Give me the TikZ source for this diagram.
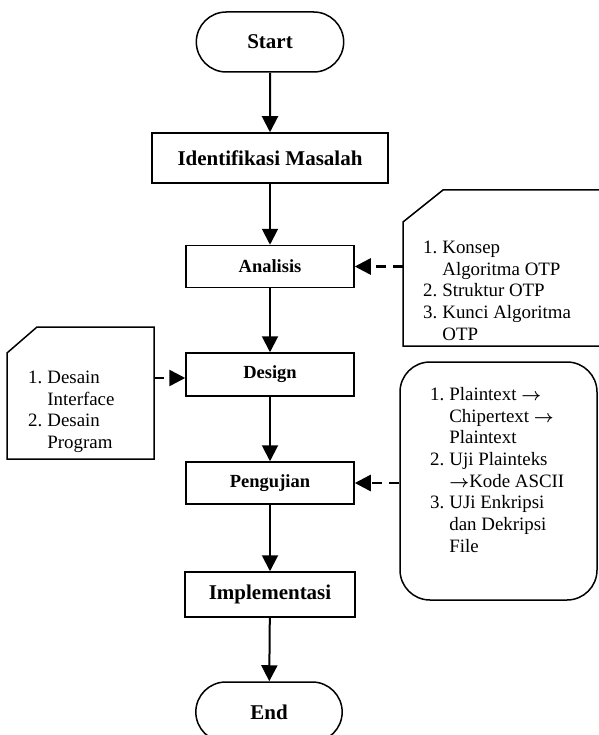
\documentclass[tikz,border=0pt]{standalone}
\usepackage{fontspec}
\setmainfont{Liberation Serif}
\usetikzlibrary{shapes.misc,arrows.meta}

\newcommand{\thickto}{{\boldmath$\rightarrow$}}

\begin{document}
\begin{tikzpicture}[
    x=1pt, y=-1pt,
    >={Triangle[width=16pt,length=16pt]},
    % --- node styles ---
    terminal/.style = {rounded rectangle, draw, line width=1.5pt,
                       minimum width=154pt, minimum height=60pt,
                       font=\fontsize{21}{25}\selectfont\bfseries},
    bigbox/.style   = {rectangle, draw, line width=1.5pt,
                       font=\fontsize{21}{25}\selectfont\bfseries},
    smallbox/.style = {rectangle, draw, line width=1.5pt,
                       minimum width=168pt, minimum height=42pt,
                       font=\fontsize{18.5}{22}\selectfont\bfseries},
    noteline/.style = {draw, line width=1.5pt, line join=miter},
    notetext/.style = {anchor=north west, inner sep=0pt,
                       font=\fontsize{18.9}{21.7}\selectfont},
    arrow/.style    = {->, line width=2pt},
    darrow/.style   = {->, line width=2.6pt, dash pattern=on 10pt off 7pt},
]

\useasboundingbox (0,0) rectangle (598,735);

%============ MAIN FLOW ============
\node (start) [terminal] at (270,42) {Start};

\node (identifikasi) [bigbox, minimum width=236pt, minimum height=50pt] at (270,158)
  {Identifikasi Masalah};

\node (analisis) [smallbox] at (270,266.5) {Analisis};

\node (design) [smallbox, minimum height=43pt] at (270,374.5) {Design};

\node (pengujian) [smallbox] at (270,483) {Pengujian};

\node (implementasi) [bigbox, minimum width=170pt, minimum height=45pt] at (270,594.5)
  {Implementasi};

\node (end) [terminal, minimum width=153pt] at (269,712) {End};

%============ SIDE NOTES ============
% note for Analisis (cut corner, runs off the right edge)
\draw[noteline] (403,222) -- (443,190) -- (605,190) -- (605,346) -- (403,346) -- cycle;
\coordinate (analisisnote) at (403,266.5);
\node (analisistext) [notetext] at (423,238)
  {\begin{tabular}{@{}l@{\hspace{5pt}}l@{}}
   1. & Konsep\\
      & Algoritma OTP\\
   2. & Struktur OTP\\
   3. & Kunci Algoritma\\
      & OTP
   \end{tabular}};

% note for Design (cut corner)
\draw[noteline] (7,353) -- (37,327) -- (154,327) -- (154,459) -- (7,459) -- cycle;
\coordinate (designnote) at (154,378);
\node (designtext) [notetext] at (28,368)
  {\begin{tabular}{@{}l@{\hspace{5pt}}l@{}}
   1. & Desain\\
      & Interface\\
   2. & Desain\\
      & Program
   \end{tabular}};

% note for Pengujian (rounded)
\node (ujinote) [draw, line width=1.5pt, rounded corners=30pt,
      minimum width=197pt, minimum height=238pt] at (498.5,481) {};
\node (ujitext) [notetext] at (430,385)
  {\begin{tabular}{@{}l@{\hspace{5pt}}l@{}}
   1. & Plaintext \thickto\\
      & Chipertext \thickto\\
      & Plaintext\\
   2. & Uji Plainteks\\
      & \thickto Kode ASCII\\
   3. & UJi Enkripsi\\
      & dan Dekripsi\\
      & File
   \end{tabular}};

%============ MAIN-FLOW ARROWS ============
\foreach \a/\b in {start/identifikasi, identifikasi/analisis, analisis/design,
                   design/pengujian, pengujian/implementasi, implementasi/end}
  \draw[arrow] (\a) -- (\b);

% dashed arrows from the notes
\draw[darrow] (analisisnote) -- (analisis.east);
\draw[darrow] (designnote) -- (design.west |- designnote);
\draw[darrow] (pengujian.east -| ujinote.west) -- (pengujian.east);

\end{tikzpicture}
\end{document}
